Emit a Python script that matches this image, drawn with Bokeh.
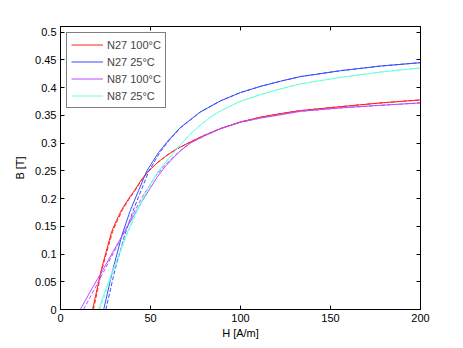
from bokeh.plotting import figure
from bokeh.models import Range1d, FixedTicker, LinearAxis, Legend, LegendItem
from bokeh.embed import file_html
from bokeh.resources import INLINE

# ---- data ----
labels = ["N27 100°C", "N27 25°C", "N87 100°C", "N87 25°C"]
colors = ["#ff2020", "#3a4dff", "#b84dff", "#70ffdc"]

# N27 100 °C
h_n27_100 = [17.8, 20.2, 22.6, 25, 28.4, 31, 34, 37.5, 41, 45, 49, 54, 58.3, 63.8, 72.2, 80, 88.9, 100, 111, 122.3, 133.4, 155.7, 178, 200]
b_n27_100 = [0, 0.035, 0.0707, 0.1, 0.14, 0.16, 0.18, 0.198, 0.214, 0.234, 0.25, 0.265, 0.276, 0.288, 0.302, 0.314, 0.326, 0.338, 0.3465, 0.353, 0.3585, 0.3656, 0.3723, 0.3777]
h_n27_100_d = [18.3, 20.6, 22.9, 25.4, 28.9, 31.6, 34.5, 37.9, 41.3, 45.2, 49.1, 54, 58.3, 63.8, 72.2, 80, 88.9, 100, 111, 122.3, 133.4, 155.7, 178, 200]

# N27 25 °C
h_n27_25 = [24.0, 29, 34.1, 38.8, 43.4, 48, 54.5, 60, 66.6, 77.7, 88.9, 100, 111, 122.3, 133.4, 155.7, 178, 200]
b_n27_25 = [0, 0.0707, 0.1336, 0.1786, 0.2146, 0.25, 0.283, 0.305, 0.328, 0.356, 0.376, 0.391, 0.402, 0.4115, 0.4198, 0.4304, 0.4388, 0.4448]
h_n27_25_d = [25.2, 30.2, 35.6, 40.4, 44.8, 49.2, 55.2, 60.4, 66.8, 77.7, 88.9, 100, 111, 122.3, 133.4, 155.7, 178, 200]

# N87 100 °C
h_n87_100 = [11, 17, 23.4, 29, 35, 41, 47, 53.6, 58, 62.3, 67, 72.2, 80, 88.9, 100, 111, 122.3, 133.4, 155.7, 178, 200]
b_n87_100 = [0, 0.035, 0.0707, 0.103, 0.137, 0.171, 0.204, 0.238, 0.257, 0.272, 0.287, 0.3, 0.313, 0.326, 0.3375, 0.345, 0.351, 0.3572, 0.3633, 0.368, 0.3723]
h_n87_100_d = [12.8, 18.6, 24.4, 29.6, 35.0, 40.2, 45.6, 52.4, 57.2, 61.8, 66.8, 72.0, 80, 88.9, 100, 111, 122.3, 133.4, 155.7, 178, 200]

# N87 25 °C
h_n87_25 = [21.2, 25, 29.1, 36.4, 42.5, 48, 54.5, 63.8, 72.2, 77.7, 83, 88.9, 100, 111, 122.3, 133.4, 155.7, 178, 200]
b_n87_25 = [0, 0.035, 0.0707, 0.1336, 0.1786, 0.2146, 0.25, 0.2865, 0.3165, 0.332, 0.346, 0.358, 0.3752, 0.3872, 0.3975, 0.4065, 0.4184, 0.428, 0.4353]
h_n87_25_d = [21.8, 25.6, 29.6, 36.8, 42.8, 48.2, 54.6, 63.8, 72.2, 77.7, 83, 88.9, 100, 111, 122.3, 133.4, 155.7, 178, 200]

x_ticks = [0, 50, 100, 150, 200]
y_ticks = [0, 0.05, 0.1, 0.15, 0.2, 0.25, 0.3, 0.35, 0.4, 0.45, 0.5]
y_tick_labels = ["0", "0.05", "0.1", "0.15", "0.2", "0.25", "0.3", "0.35", "0.4", "0.45", "0.5"]

FONT = "Liberation Sans"
FS = "11px"

p = figure(frame_width=360, frame_height=283,
           x_range=Range1d(0, 200), y_range=Range1d(0, 0.51),
           output_backend="svg", toolbar_location=None,
           min_border_left=60, min_border_top=26, min_border_right=30, min_border_bottom=31,
           background_fill_color="white", border_fill_color="white")
p.grid.visible = False
p.outline_line_color = "black"

series = [
    (h_n27_100, h_n27_100_d, b_n27_100),
    (h_n27_25, h_n27_25_d, b_n27_25),
    (h_n87_100, h_n87_100_d, b_n87_100),
    (h_n87_25, h_n87_25_d, b_n87_25),
]
items = []
for (hs, hd, b), col, lab in zip(series, colors, labels):
    r = p.line(hs, b, line_color=col, line_width=1)
    p.line(hd, b, line_color=col, line_width=1, line_dash="4 2")
    items.append(LegendItem(label=lab, renderers=[r]))

def style_axis(ax, show_labels=True):
    ax.major_tick_in = 4
    ax.major_tick_out = 0
    ax.minor_tick_line_color = None
    ax.axis_line_color = "black"
    ax.major_tick_line_color = "black"
    ax.major_label_text_font = FONT
    ax.major_label_text_font_size = FS
    ax.major_label_text_color = "black" if show_labels else None
    ax.axis_label_text_font = FONT
    ax.axis_label_text_font_size = FS
    ax.axis_label_text_font_style = "normal"
    ax.axis_label_text_color = "black"

xa = p.xaxis[0]
style_axis(xa)
xa.ticker = FixedTicker(ticks=x_ticks)
xa.axis_label = "H [A/m]"
xa.axis_label_standoff = 2
xa.major_label_standoff = 4

ya = p.yaxis[0]
style_axis(ya)
ya.ticker = FixedTicker(ticks=y_ticks)
ya.major_label_overrides = {t: s for t, s in zip(y_ticks, y_tick_labels)}
ya.axis_label = "B [T]"
ya.axis_label_standoff = 6
ya.major_label_standoff = 4

top = LinearAxis()
style_axis(top, show_labels=False)
top.ticker = FixedTicker(ticks=x_ticks)
p.add_layout(top, "above")
right = LinearAxis()
style_axis(right, show_labels=False)
right.ticker = FixedTicker(ticks=y_ticks)
p.add_layout(right, "right")

leg = Legend(items=items, location="top_left")
leg.margin = 6
leg.padding = 4
leg.spacing = 2
leg.label_height = 15
leg.glyph_height = 15
leg.glyph_width = 32
leg.label_standoff = 4
leg.label_text_font = FONT
leg.label_text_font_size = FS
leg.border_line_color = "black"
leg.border_line_width = 1
leg.background_fill_alpha = 1
p.add_layout(leg, "center")

open("out.html", "w").write(file_html(p, INLINE))
